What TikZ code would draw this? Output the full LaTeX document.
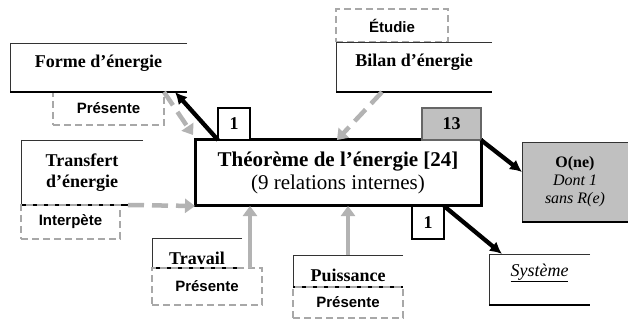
\documentclass[tikz,border=0pt]{standalone}
\usepackage{fontspec}
\setmainfont{Liberation Serif}
\setsansfont{Liberation Sans}
\usepackage{tikz}
\usetikzlibrary{positioning,arrows.meta}
\definecolor{boxGray}{HTML}{C0C0C0}
\definecolor{linkGray}{HTML}{B3B3B3}
\definecolor{tagGray}{HTML}{A8A8A8}

\begin{document}
\begin{tikzpicture}[x=1pt,y=-1pt,
  concept/.style={anchor=north west,inner sep=0pt,outer sep=0pt,fill=white,align=center,font=\bfseries\fontsize{18}{21}\selectfont,
    append after command={(\tikzlastnode.north east) edge[topEdge] (\tikzlastnode.north west)
      (\tikzlastnode.north west) edge[topEdge] (\tikzlastnode.south west)
      (\tikzlastnode.south west) edge[bottomEdge] (\tikzlastnode.south east)}},
  topEdge/.style={draw=black!80,line width=.8pt,-},
  bottomEdge/.style={draw=black,line width=2.6pt,-},
  tag/.style={anchor=north west,draw=tagGray,dash pattern=on 7pt off 4pt,line width=1.5pt,inner sep=0pt,outer sep=0pt,font=\sffamily\bfseries\fontsize{15}{18}\selectfont},
  count/.style={draw,line width=1.4pt,fill=white,inner sep=0pt,outer sep=0pt,minimum height=32pt,font=\bfseries\fontsize{18}{21}\selectfont},
  link/.style={line width=4.3pt,-{Latex[length=12pt,width=12pt]}},
  feed/.style={draw=linkGray,line width=4.5pt,-{Triangle[length=10pt,width=14pt]}},
  feedDash/.style={feed,dash pattern=on 16pt off 8pt}
]
  \useasboundingbox (0,0) rectangle (628,320);
  % labels over / under the concepts
  \node[tag,minimum width=111pt,minimum height=33pt] (presForme) at (53,92) {Présente};
  \node[tag,minimum width=112pt,minimum height=33pt] (etudBilan) at (336,9) {Étudie};
  % concepts
  \node[concept,minimum width=177pt,minimum height=49pt,text height=10pt,text depth=10pt] (forme) at (10,43) {Forme d'énergie};
  \node[concept,minimum width=156pt,minimum height=50pt,text height=10pt,text depth=10pt] (bilan) at (336,42) {Bilan d'énergie};
  \node[concept,minimum width=122pt,minimum height=65pt] (transfert) at (21,140) {Transfert\\d'énergie};
  \node[concept,minimum width=90pt,minimum height=30pt,text height=24pt,text depth=1pt] (travail) at (152,238) {Travail};
  \node[concept,minimum width=110pt,minimum height=32pt,text height=24pt,text depth=4pt] (puissance) at (293,255) {Puissance};
  \node[concept,minimum width=101pt,minimum height=51pt,text height=12pt,text depth=19pt,font=\itshape\fontsize{18}{21}\selectfont] (systeme) at (489,254) {\underline{Système}};
  \node[concept,fill=boxGray,minimum width=106pt,minimum height=80pt,font=\fontsize{16}{18}\selectfont] (one) at (522,142) {\textbf{O(ne)}\\\textit{Dont 1}\\\textit{sans R(e)}};
  \node[tag,minimum width=99pt,minimum height=34pt] (interTransfert) at (21,205) {Interpète};
  \node[tag,minimum width=110pt,minimum height=37pt] (presTravail) at (152,268) {Présente};
  \node[tag,minimum width=110pt,minimum height=31pt] (presPuissance) at (293,287) {Présente};
  % central theorem
  \node[draw,line width=3pt,fill=white,inner sep=0pt,outer sep=0pt,minimum width=286pt,minimum height=66pt,align=center,font=\fontsize{21}{23}\selectfont] (theo) at (338,173) {\textbf{Théorème de l'énergie [24]}\\(9 relations internes)};
  \node[count,minimum width=32pt,above right=0pt and 23pt of theo.north west] (numForme) {1};
  \node[count,fill=boxGray,draw=black!60,minimum width=59pt,above left=0pt and 0pt of theo.north east] (numOne) {13};
  \node[count,minimum width=32pt,minimum height=33pt,below left=0pt and 37pt of theo.south east] (numSys) {1};
  % connectors
  \draw[feedDash] (presForme.north east) -- ([xshift=-2pt,yshift=5pt]theo.north west);
  \draw[feedDash] ([xshift=46pt]bilan.south west) -- ([xshift=142pt]theo.north west);
  \draw[feedDash] ([xshift=-15pt]transfert.south east) -- (theo.south west);
  \draw[feed] ([xshift=-12pt]presTravail.north east) -- ([xshift=-12pt]presTravail.north east |- theo.south);
  \draw[feed] (puissance.north) -- (puissance.north |- theo.south);
  \draw[link] (numForme.south west) -- ([xshift=-12pt]forme.south east);
  \draw[link] (numOne.south east) -- ([yshift=10pt]one.west);
  \draw[link] (numSys.north east) -- ([xshift=13pt]systeme.north west);
\end{tikzpicture}
\end{document}
